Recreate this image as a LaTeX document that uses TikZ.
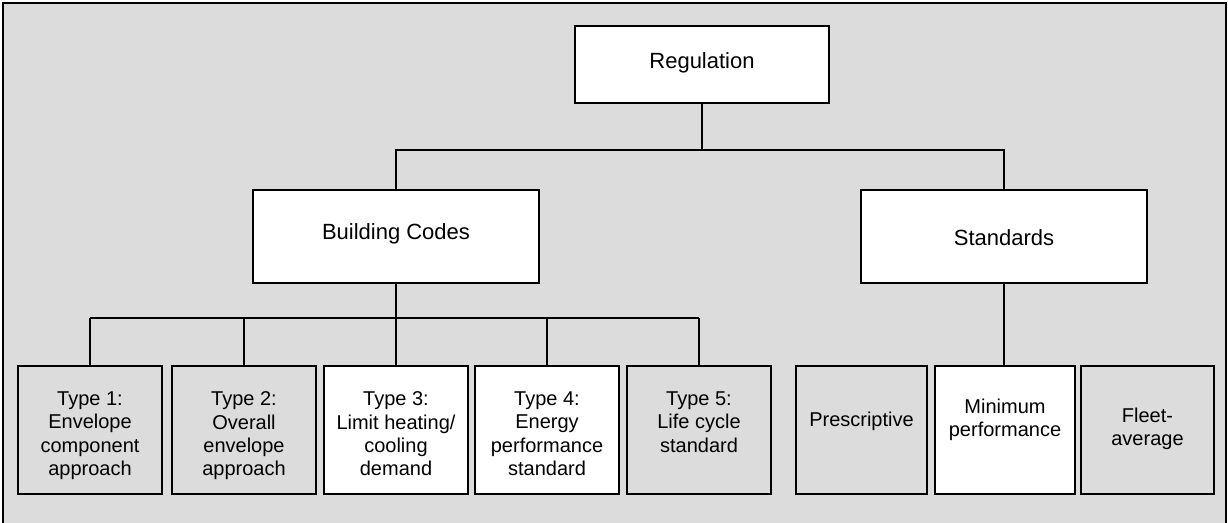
\documentclass[tikz,border=0pt]{standalone}
\usepackage{fontspec}
\setmainfont{Liberation Sans}
\definecolor{panelgray}{RGB}{220,220,220}
\tikzset{
  panel/.style={draw=black, line width=2pt, fill=panelgray},
  whitebox/.style={draw=black, line width=2.2pt, fill=white, inner sep=0pt, outer sep=0pt, anchor=north west},
  graybox/.style={whitebox, fill=panelgray},
  conn/.style={draw=black, line width=1.6pt},
  toptext/.style={font=\fontsize{22}{25}\selectfont, anchor=north, inner sep=0pt, align=center},
  lowtext/.style={font=\fontsize{20}{23.2}\selectfont, anchor=north, inner sep=0pt, align=center},
}
\begin{document}
\begin{tikzpicture}[x=1pt, y=-1pt]
\useasboundingbox (0,0) rectangle (1228,522);
% outer panel (bottom edge runs past the page)
\draw[panel] (2.5,2.5) rectangle (1225.5,530);

% top levels
\node[whitebox, minimum width=254pt, minimum height=77pt] (reg) at (575,26) {};
\node[whitebox, minimum width=286pt, minimum height=93pt] (bc) at (253,190) {};
\node[whitebox, minimum width=286pt, minimum height=93pt] (std) at (861,190) {};

% building code types
\node[graybox,  minimum width=144pt, minimum height=128pt] (t1) at (18,366) {};
\node[graybox,  minimum width=144pt, minimum height=128pt] (t2) at (172,366) {};
\node[whitebox, minimum width=144pt, minimum height=128pt] (t3) at (324,366) {};
\node[whitebox, minimum width=144pt, minimum height=128pt] (t4) at (475,366) {};
\node[graybox,  minimum width=144pt, minimum height=128pt] (t5) at (627,366) {};

% standards types
\node[graybox,  minimum width=131pt, minimum height=128pt] (pre) at (796,366) {};
\node[whitebox, minimum width=140pt, minimum height=128pt] (min) at (935,366) {};
\node[graybox,  minimum width=133pt, minimum height=128pt] (fleet) at (1081,366) {};

% labels
\node[toptext] (regtxt) at (reg.center |- 0,52.3) {Regulation};
\node[toptext] (bctxt) at (bc.center |- 0,223.3) {Building Codes};
\node[toptext] (stdtxt) at (std.center |- 0,229.5) {Standards};

\node[lowtext] (t1txt) at (t1.center |- 0,391.7) {Type 1:\\Envelope\\component\\approach};
\node[lowtext] (t2txt) at (t2.center |- 0,391.7) {Type 2:\\Overall\\envelope\\approach};
\node[lowtext] (t3txt) at (t3.center |- 0,391.7) {Type 3:\\Limit heating/\\cooling\\demand};
\node[lowtext] (t4txt) at (t4.center |- 0,391.7) {Type 4:\\Energy\\performance\\standard};
\node[lowtext] (t5txt) at (t5.center |- 0,391.7) {Type 5:\\Life cycle\\standard};
\node[lowtext] (pretxt) at (pre.center |- 0,411.7) {Prescriptive};
\node[lowtext] (mintxt) at (min.center |- 0,398.7) {Minimum\\performance};
\node[lowtext] (fleettxt) at (fleet.center |- 0,407.7) {Fleet-\\average};

% connectors
\coordinate (regbus) at (702,150);
\coordinate (bcbus) at (396,318);
\draw[conn] (reg.south) -- (reg.south |- regbus);
\draw[conn] (bc.north) -- (bc.north |- regbus) -- (std.north |- regbus) -- (std.north);
\draw[conn] (bc.south) -- (bc.south |- bcbus);
\draw[conn] (t1.north |- bcbus) -- (t5.north |- bcbus);
\foreach \t in {t1,t2,t3,t4,t5}
  \draw[conn] (\t.north |- bcbus) -- (\t.north);
\draw[conn] (std.south) -- (std.south |- min.north);
\end{tikzpicture}
\end{document}
